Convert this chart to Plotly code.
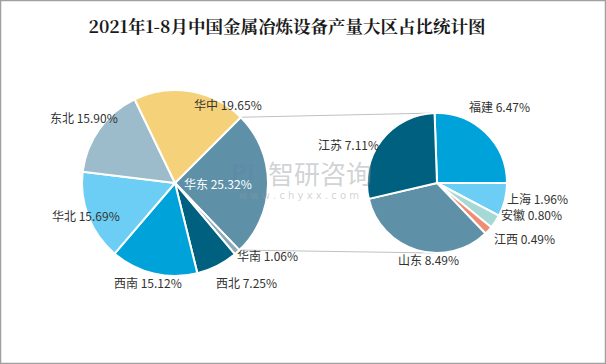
import math
import plotly.graph_objects as go

# ---------------- data ----------------
title_text = "2021年1-8月中国金属冶炼设备产量大区占比统计图"
region_labels = ["华东", "华南", "西北", "西南", "华北", "东北", "华中"]
region_values = [25.32, 1.06, 7.25, 15.12, 15.69, 15.90, 19.65]
east_labels = ["福建", "上海", "安徽", "江西", "山东", "江苏"]
east_values = [6.47, 1.96, 0.80, 0.49, 8.49, 7.11]

# ---------------- style ----------------
region_colors = ["#5E91A8", "#8DAAB8", "#00607F", "#00A3D9", "#6CCEF4", "#9DBCCB", "#F5D27A"]
east_colors = ["#00A3D9", "#6CCEF4", "#A6D9D6", "#F08C74", "#5E91A8", "#00607F"]

W, H = 606, 364
L_CX, L_CY, L_R, L_ROT = 175, 183, 93, 45
R_CX, R_CY, R_R, R_ROT = 437, 183, 70, -2

# label placement (radial factor, angular nudge in degrees)
region_lab_k = [0.46, 1.26, 1.32, 1.11, 1.02, 1.21, 1.02]
region_lab_da = [0, -10, -8.5, 2, 1.5, 0, 24]
east_lab_k = [1.41, 1.46, 1.42, 1.48, 1.10, 1.38]
east_lab_da = [-5, -5, -15, -10, -10, -14]

LABEL_FONT = "Noto Sans CJK SC"
WM_COLOR = "rgba(150,155,160,0.45)"


def to_paper(x, y):
    return x / W, 1 - y / H


def domain(cx, cy, r):
    return dict(x=[(cx - r) / W, (cx + r) / W], y=[1 - (cy + r) / H, 1 - (cy - r) / H])


def slice_angles(values, rot):
    tot = sum(values)
    out, a = [], rot
    for v in values:
        b = a + 360 * v / tot
        out.append((a, b))
        a = b
    return out


def pt(cx, cy, r, ang):
    t = math.radians(ang)
    return cx + r * math.sin(t), cy - r * math.cos(t)


fig = go.Figure()
fig.add_trace(go.Pie(
    labels=region_labels, values=region_values, sort=False, direction="clockwise",
    rotation=L_ROT, textinfo="none", domain=domain(L_CX, L_CY, L_R),
    marker=dict(colors=region_colors, line=dict(color="white", width=2)),
    showlegend=False, hovertemplate="%{label} %{value:.2f}%<extra></extra>"))
fig.add_trace(go.Pie(
    labels=east_labels, values=east_values, sort=False, direction="clockwise",
    rotation=R_ROT, textinfo="none", domain=domain(R_CX, R_CY, R_R),
    marker=dict(colors=east_colors, line=dict(color="white", width=2)),
    showlegend=False, hovertemplate="%{label} %{value:.2f}%<extra></extra>"))

annotations = []

# watermark (drawn first so labels sit on top)
for txt, (x, y), fam, size, col in [
    ("智研咨询", (319.5, 172.5), LABEL_FONT, 26, WM_COLOR),
    ("w w w . c h y x x . c o m", (299, 195.5), "DejaVu Sans", 10, WM_COLOR),
    ("<b>Pi</b>", (243, 172), "DejaVu Sans", 22, "rgba(95,130,170,0.32)"),
]:
    px, py = to_paper(x, y)
    annotations.append(dict(x=px, y=py, xref="paper", yref="paper", showarrow=False,
                            text=txt, font=dict(family=fam, size=size, color=col)))

L_ang = slice_angles(region_values, L_ROT)
for i, (lab, v) in enumerate(zip(region_labels, region_values)):
    mid = (L_ang[i][0] + L_ang[i][1]) / 2 + region_lab_da[i]
    x, y = pt(L_CX, L_CY, L_R * region_lab_k[i], mid)
    px, py = to_paper(x, y)
    annotations.append(dict(x=px, y=py, xref="paper", yref="paper", showarrow=False,
                            text=f"{lab} {v:.2f}%", xanchor="center", yanchor="middle",
                            font=dict(family=LABEL_FONT, size=12,
                                      color="white" if i == 0 else "#333333")))
R_ang = slice_angles(east_values, R_ROT)
for i, (lab, v) in enumerate(zip(east_labels, east_values)):
    mid = (R_ang[i][0] + R_ang[i][1]) / 2 + east_lab_da[i]
    x, y = pt(R_CX, R_CY, R_R * east_lab_k[i], mid)
    px, py = to_paper(x, y)
    annotations.append(dict(x=px, y=py, xref="paper", yref="paper", showarrow=False,
                            text=f"{lab} {v:.2f}%", xanchor="center", yanchor="middle",
                            font=dict(family=LABEL_FONT, size=12, color="#333333")))

shapes = []
# connector lines from the 华东 slice to the secondary pie
top0 = to_paper(*pt(L_CX, L_CY, L_R, L_ang[0][0]))
top1 = to_paper(*pt(R_CX, R_CY, R_R, R_ROT))
bot0 = to_paper(*pt(L_CX, L_CY, L_R, L_ang[0][1]))
bot1 = to_paper(*pt(R_CX, R_CY, R_R, 180))
for a, b in [(top0, top1), (bot0, bot1)]:
    shapes.append(dict(type="line", xref="paper", yref="paper", x0=a[0], y0=a[1],
                       x1=b[0], y1=b[1], line=dict(color="#C0C0C0", width=1), layer="below"))
# outer border
shapes.append(dict(type="rect", xref="paper", yref="paper", x0=0.5 / W, y0=0.5 / H,
                   x1=1 - 0.5 / W, y1=1 - 0.5 / H, line=dict(color="#A0A0A0", width=1.5)))

tx, ty = to_paper(287, 27)
fig.update_layout(
    width=W, height=H, margin=dict(l=0, r=0, t=0, b=0),
    paper_bgcolor="white", plot_bgcolor="white",
    title=dict(text=title_text, x=tx, y=ty, xanchor="center", yanchor="middle",
               font=dict(family="Noto Serif CJK SC, Noto Sans CJK SC", size=17.5, color="#1a1a1a",
                         weight="bold")),
    annotations=annotations, shapes=shapes,
)

fig.write_html("out.html", config={"displayModeBar": False},
               post_script="document.body.style.margin='0';document.body.style.overflow='hidden';")
